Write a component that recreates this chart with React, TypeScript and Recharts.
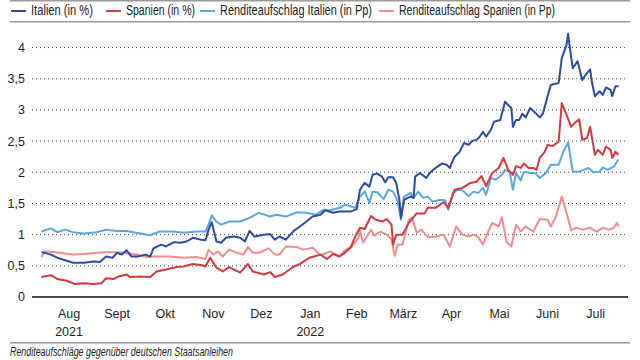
import { CartesianGrid, Line, LineChart, XAxis, YAxis } from 'recharts'

// x = days since 1 July 2021
const italien: [number, number][] = [
  [29, 0.72], [35, 0.68], [39, 0.63], [44, 0.59], [49, 0.55], [56, 0.55], [62, 0.57], [66, 0.56],
  [70, 0.65], [74, 0.63], [77, 0.71], [80, 0.68], [83, 0.75], [86, 0.65], [90, 0.65], [95, 0.68],
  [98, 0.65], [100, 0.78], [105, 0.84], [108, 0.81], [113, 0.88], [117, 0.87], [121, 0.89],
  [125, 0.95], [130, 0.92], [133, 0.91], [135, 1.08], [137, 1.2], [140, 0.89], [143, 0.87],
  [146, 0.95], [151, 0.97], [155, 0.95], [158, 0.89], [161, 1.06], [164, 0.97], [170, 1.0],
  [174, 1.01], [177, 0.92], [180, 0.97], [184, 0.92], [189, 1.06], [193, 1.13], [197, 1.21],
  [201, 1.29], [206, 1.32], [209, 1.39], [214, 1.35], [218, 1.37], [225, 1.37], [229, 1.41],
  [231, 1.72], [234, 1.83], [237, 1.77], [239, 1.96], [242, 1.98], [245, 1.93], [247, 1.84],
  [249, 1.92], [252, 1.92], [254, 1.83], [256, 1.56], [257, 1.27], [259, 1.56], [263, 1.61],
  [265, 1.59], [266, 1.93], [269, 1.99], [273, 1.91], [276, 2.01], [279, 2.07], [283, 2.14],
  [286, 2.12], [288, 2.07], [291, 2.25], [294, 2.32], [297, 2.47], [300, 2.44], [302, 2.5],
  [305, 2.52], [307, 2.57], [309, 2.65], [311, 2.57], [314, 2.68], [316, 2.81], [320, 2.84],
  [323, 3.13], [325, 3.08], [327, 3.03], [328, 2.73], [330, 2.84], [332, 2.84], [334, 2.94],
  [336, 2.88], [339, 3.03], [342, 2.96], [345, 2.88], [347, 2.94], [350, 3.22], [352, 3.4],
  [355, 3.42], [357, 3.43], [359, 3.83], [362, 4.04], [363, 4.22], [365, 3.83], [366, 3.67],
  [369, 3.78], [372, 3.48], [374, 3.56], [377, 3.65], [378, 3.46], [380, 3.22], [383, 3.3],
  [385, 3.24], [387, 3.36], [390, 3.32], [391, 3.22], [393, 3.38], [395, 3.38],
]

const spanien: [number, number][] = [
  [29, 0.32], [35, 0.35], [39, 0.29], [45, 0.26], [50, 0.21], [56, 0.22], [62, 0.21], [67, 0.22],
  [70, 0.3], [75, 0.29], [78, 0.33], [83, 0.36], [85, 0.32], [91, 0.33], [98, 0.32], [102, 0.41],
  [108, 0.44], [115, 0.48], [119, 0.49], [125, 0.53], [131, 0.51], [133, 0.49], [136, 0.63],
  [140, 0.47], [144, 0.41], [148, 0.48], [155, 0.39], [160, 0.53], [163, 0.41], [170, 0.36],
  [174, 0.4], [177, 0.32], [182, 0.36], [189, 0.49], [193, 0.53], [199, 0.63], [206, 0.68],
  [210, 0.61], [214, 0.69], [218, 0.65], [221, 0.7], [225, 0.79], [228, 0.97], [231, 1.11],
  [234, 1.09], [238, 1.3], [241, 1.24], [245, 1.21], [248, 1.25], [251, 1.16], [252, 0.84],
  [254, 1.0], [258, 1.0], [262, 1.19], [267, 1.34], [272, 1.34], [274, 1.43], [279, 1.43],
  [284, 1.52], [287, 1.43], [291, 1.72], [296, 1.75], [301, 1.83], [305, 1.85], [308, 1.94],
  [311, 1.78], [315, 1.99], [319, 2.07], [322, 2.23], [325, 2.04], [328, 1.96], [330, 2.1],
  [333, 2.07], [335, 2.14], [338, 2.07], [341, 2.07], [343, 2.04], [345, 2.23], [348, 2.32],
  [350, 2.44], [353, 2.42], [357, 2.49], [359, 3.11], [362, 2.92], [365, 2.73], [367, 2.79],
  [370, 2.85], [372, 2.52], [375, 2.55], [377, 2.73], [380, 2.28], [382, 2.36], [385, 2.28],
  [387, 2.41], [390, 2.36], [391, 2.23], [393, 2.33], [395, 2.28],
]

const aufschlagItalien: [number, number][] = [
  [29, 1.05], [35, 1.1], [39, 1.04], [44, 1.08], [49, 1.04], [56, 1.02], [64, 1.04], [70, 1.08],
  [77, 1.06], [83, 1.06], [89, 1.03], [98, 0.99], [104, 1.05], [113, 1.05], [119, 1.03],
  [127, 1.05], [133, 1.05], [135, 1.16], [137, 1.31], [140, 1.21], [143, 1.16], [148, 1.21],
  [155, 1.21], [161, 1.27], [167, 1.35], [174, 1.29], [178, 1.32], [184, 1.29], [191, 1.36],
  [197, 1.35], [203, 1.32], [208, 1.4], [212, 1.39], [218, 1.43], [222, 1.48], [228, 1.43],
  [231, 1.61], [234, 1.69], [237, 1.51], [239, 1.69], [242, 1.68], [246, 1.57], [249, 1.72],
  [252, 1.69], [255, 1.53], [257, 1.24], [259, 1.61], [263, 1.67], [265, 1.59], [268, 1.69],
  [271, 1.59], [274, 1.61], [277, 1.53], [282, 1.56], [285, 1.55], [287, 1.4], [290, 1.67],
  [293, 1.72], [296, 1.71], [300, 1.62], [303, 1.69], [306, 1.67], [309, 1.75], [311, 1.64],
  [314, 1.91], [317, 1.88], [321, 1.96], [323, 2.04], [326, 2.0], [328, 1.72], [330, 1.99],
  [333, 1.87], [335, 2.01], [339, 1.99], [342, 1.99], [345, 1.91], [349, 1.99], [352, 2.12],
  [357, 2.12], [360, 2.33], [363, 2.48], [366, 2.01], [370, 2.01], [376, 2.07], [379, 2.0],
  [383, 2.01], [385, 2.08], [388, 2.04], [392, 2.09], [395, 2.21],
]

const aufschlagSpanien: [number, number][] = [
  [29, 0.64], [31, 0.73], [37, 0.72], [43, 0.7], [49, 0.68], [56, 0.69], [64, 0.71], [72, 0.72],
  [81, 0.71], [89, 0.68], [96, 0.64], [102, 0.65], [110, 0.65], [119, 0.63], [127, 0.64],
  [133, 0.61], [135, 0.76], [138, 0.68], [141, 0.73], [144, 0.65], [148, 0.76], [153, 0.71],
  [157, 0.68], [160, 0.8], [163, 0.71], [167, 0.71], [173, 0.78], [177, 0.68], [180, 0.68],
  [184, 0.81], [191, 0.8], [195, 0.76], [201, 0.79], [206, 0.67], [212, 0.73], [218, 0.65],
  [222, 0.76], [226, 0.81], [230, 0.95], [231, 1.07], [233, 0.87], [238, 1.08], [240, 0.98],
  [244, 1.05], [248, 1.0], [251, 0.92], [253, 0.66], [255, 0.84], [258, 0.84], [262, 1.24],
  [264, 1.27], [267, 1.03], [270, 1.08], [274, 0.96], [279, 0.97], [284, 1.0], [288, 0.81],
  [292, 1.13], [296, 1.0], [300, 0.97], [303, 1.0], [306, 0.96], [309, 0.84], [312, 1.03],
  [315, 1.19], [319, 1.13], [321, 1.28], [324, 0.88], [327, 0.81], [330, 1.16], [333, 1.05],
  [336, 1.13], [341, 1.05], [345, 1.25], [350, 1.24], [352, 1.13], [355, 1.27], [359, 1.61],
  [362, 1.35], [365, 1.07], [368, 1.11], [372, 1.08], [377, 1.11], [381, 1.05], [385, 1.11],
  [389, 1.08], [392, 1.11], [394, 1.19], [395, 1.13],
]

// month labels sit in the middle of each month
const monthTicks = [46.5, 77, 107.5, 138, 168.5, 199.5, 229, 258.5, 289, 319.5, 350, 380.5]
const monthNames = ['Aug', 'Sept', 'Okt', 'Nov', 'Dez', 'Jan', 'Feb', 'März', 'Apr', 'Mai', 'Juni', 'Juli']
const yearLabels: Record<string, string> = { Aug: '2021', Jan: '2022' }
const yTicks = [0, 0.5, 1, 1.5, 2, 2.5, 3, 3.5, 4]

const series = [
  { name: 'Italien (in %)', color: '#2d4b9f', data: italien, legendX: 11, textW: 62 },
  { name: 'Spanien (in %)', color: '#d23a3f', data: spanien, legendX: 106, textW: 69 },
  { name: 'Renditeaufschlag Italien (in Pp)', color: '#5aa7de', data: aufschlagItalien, legendX: 200, textW: 152 },
  { name: 'Renditeaufschlag Spanien (in Pp)', color: '#f58c8e', data: aufschlagSpanien, legendX: 379, textW: 156 },
]

const FONT = '"Liberation Sans", Arial, sans-serif'

const toPoints = (arr: [number, number][]) => arr.map(([d, v]) => ({ d, v }))

function MonthTick({ x, y, payload }: any) {
  const label = monthNames[payload.index] ?? ''
  const year = yearLabels[label]
  return (
    <g>
      <text x={x} y={y + 21} textAnchor="middle" fontSize={12.5} fill="#222" fontFamily={FONT}>
        {label}
      </text>
      {year && (
        <text x={x} y={y + 39} textAnchor="middle" fontSize={12.5} fill="#222" fontFamily={FONT}>
          {year}
        </text>
      )}
    </g>
  )
}

export default function App() {
  // draw order: light lines below dark ones
  const drawOrder = [series[3], series[2], series[1], series[0]]
  return (
    <div
      style={{
        position: 'absolute',
        left: 0,
        top: 0,
        width: 640,
        height: 360,
        background: '#fff',
        fontFamily: FONT,
        overflow: 'hidden',
      }}
    >
      <svg width={640} height={24} style={{ position: 'absolute', left: 0, top: 0 }}>
        <line x1={10} x2={630} y1={0.75} y2={0.75} stroke="#9a9a9a" strokeWidth={1.5} />
        {series.map((s) => (
          <g key={s.name}>
            <line x1={s.legendX} x2={s.legendX + 15} y1={11} y2={11} stroke={s.color} strokeWidth={2} />
            <text
              x={s.legendX + 20}
              y={15}
              fontSize={14}
              fill="#222"
              fontFamily={FONT}
              textLength={s.textW}
              lengthAdjust="spacingAndGlyphs"
            >
              {s.name}
            </text>
          </g>
        ))}
        <line x1={10} x2={630} y1={21.75} y2={21.75} stroke="#9a9a9a" strokeWidth={1.5} />
      </svg>

      <div style={{ position: 'absolute', left: 0, top: 0 }}>
        <LineChart width={640} height={340} margin={{ top: 32, right: 12, bottom: 3, left: 0 }}>
          <CartesianGrid
            horizontal
            vertical={false}
            stroke="#444"
            strokeDasharray="1 3"
            horizontalValues={yTicks.slice(1)}
          />
          <XAxis
            type="number"
            dataKey="d"
            domain={[23, 401]}
            ticks={monthTicks}
            interval={0}
            height={40}
            tickLine={false}
            tickSize={0}
            tickMargin={0}
            axisLine={{ stroke: '#111', strokeWidth: 1.5 }}
            tick={<MonthTick />}
          />
          <YAxis
            type="number"
            domain={[0, 4.25]}
            ticks={yTicks}
            width={32}
            axisLine={false}
            tickLine={false}
            tickMargin={1}
            tick={{ fontSize: 12.5, fill: '#222', fontFamily: FONT }}
            tickFormatter={(v: number) => String(v).replace('.', ',')}
          />
          {drawOrder.map((s) => (
            <Line
              key={s.name}
              data={toPoints(s.data)}
              dataKey="v"
              name={s.name}
              type="linear"
              stroke={s.color}
              strokeWidth={2}
              strokeLinejoin="round"
              dot={false}
              activeDot={false}
              isAnimationActive={false}
            />
          ))}
        </LineChart>
      </div>

      <svg width={640} height={20} style={{ position: 'absolute', left: 0, top: 340 }}>
        <line x1={10} x2={630} y1={2.75} y2={2.75} stroke="#9a9a9a" strokeWidth={1.5} />
        <text
          x={10}
          y={16}
          fontSize={12.5}
          fontStyle="italic"
          fill="#222"
          fontFamily={FONT}
          textLength={223}
          lengthAdjust="spacingAndGlyphs"
        >
          Renditeaufschläge gegenüber deutschen Staatsanleihen
        </text>
      </svg>
    </div>
  )
}
